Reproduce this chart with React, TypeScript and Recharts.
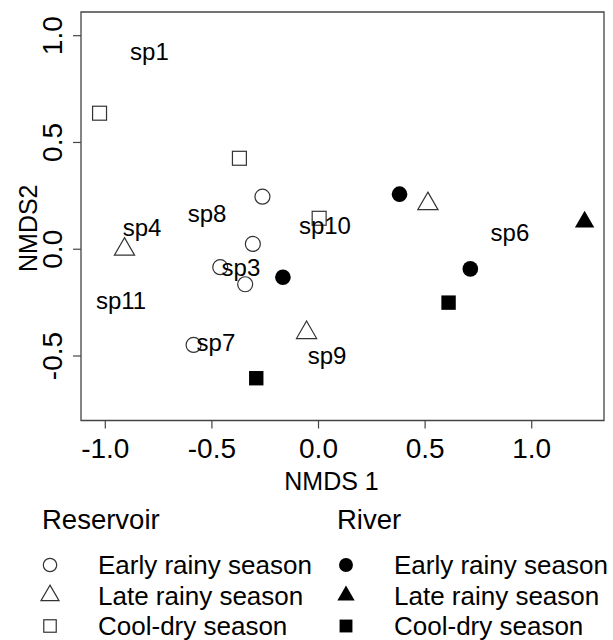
import { ScatterChart, Scatter, XAxis, YAxis, ReferenceArea } from "recharts";

const FONT = "'Liberation Sans', Arial, Helvetica, sans-serif";

// NMDS site scores, one array per habitat x season
const reservoirEarly = [
  { x: -0.263, y: 0.246 },
  { x: -0.308, y: 0.025 },
  { x: -0.461, y: -0.084 },
  { x: -0.344, y: -0.164 },
  { x: -0.586, y: -0.448 },
];
const reservoirLate = [
  { x: -0.91, y: 0.0 },
  { x: 0.513, y: 0.213 },
  { x: -0.056, y: -0.391 },
];
const reservoirCool = [
  { x: -1.027, y: 0.637 },
  { x: -0.371, y: 0.426 },
  { x: 0.003, y: 0.145 },
];
const riverEarly = [
  { x: 0.38, y: 0.258 },
  { x: -0.167, y: -0.131 },
  { x: 0.712, y: -0.092 },
];
const riverLate = [{ x: 1.248, y: 0.128 }];
const riverCool = [
  { x: 0.61, y: -0.25 },
  { x: -0.292, y: -0.604 },
];

// species scores
const species = [
  { name: "sp1", x: -0.793, y: 0.926 },
  { name: "sp8", x: -0.523, y: 0.166 },
  { name: "sp4", x: -0.828, y: 0.104 },
  { name: "sp10", x: 0.03, y: 0.11 },
  { name: "sp6", x: 0.898, y: 0.077 },
  { name: "sp3", x: -0.364, y: -0.084 },
  { name: "sp11", x: -0.926, y: -0.24 },
  { name: "sp7", x: -0.481, y: -0.438 },
  { name: "sp9", x: 0.04, y: -0.497 },
];

const xTicks = [-1, -0.5, 0, 0.5, 1];
const yTicks = [-0.5, 0, 0.5, 1];
const xDomain = [-1.114, 1.339];
const yDomain = [-0.802, 1.111];

const legendGroups = ["Reservoir", "River"];
const seasonNames = ["Early rainy season", "Late rainy season", "Cool-dry season"];

type Kind = "circle" | "triangle" | "square";
const seasonKinds: Kind[] = ["circle", "triangle", "square"];

function Marker({ cx, cy, kind, filled, a = 7.5 }: { cx: number; cy: number; kind: Kind; filled: boolean; a?: number }) {
  const paint = filled
    ? { fill: "#000", stroke: "none" }
    : { fill: "none", stroke: "#333", strokeWidth: 1.2 };
  if (kind === "circle") {
    return <circle cx={cx} cy={cy} r={filled ? a * 1.04 : a} {...paint} />;
  }
  if (kind === "square") {
    const h = filled ? a * 0.96 : a * 0.93;
    return <rect x={cx - h} y={cy - h} width={2 * h} height={2 * h} {...paint} />;
  }
  // point-up triangle, same proportions as R's pch 2 / 17
  const t = filled ? a * 0.96 : a;
  const pts = `${cx},${cy - 1.555 * t} ${cx + 1.347 * t},${cy + 0.778 * t} ${cx - 1.347 * t},${cy + 0.778 * t}`;
  return <polygon points={pts} {...paint} />;
}

const shapeFor = (kind: Kind, filled: boolean) => (p: any) =>
  <Marker cx={p.cx} cy={p.cy} kind={kind} filled={filled} />;

function SpeciesLabel(p: any) {
  return (
    <text x={p.cx} y={p.cy} dy={8.5} textAnchor="middle" fontSize={24} fontFamily={FONT} fill="#000">
      {p.payload.name}
    </text>
  );
}

function XTick({ x, y, payload }: any) {
  return (
    <text x={x} y={y + 27.8} textAnchor="middle" fontSize={28} fontFamily={FONT} fill="#000">
      {Number(payload.value).toFixed(1)}
    </text>
  );
}

function YTick({ x, y, payload }: any) {
  const bx = x - 9;
  return (
    <text x={bx} y={y} transform={`rotate(-90, ${bx}, ${y})`} textAnchor="middle" fontSize={28} fontFamily={FONT} fill="#000">
      {Number(payload.value).toFixed(1)}
    </text>
  );
}

function XTitle(props: any) {
  const vb = props.viewBox ?? { x: 81, y: 420.5, width: 523, height: 219.5 };
  return (
    <text x={vb.x + vb.width / 2 - 11} y={vb.y + 69.5} textAnchor="middle" fontSize={25} fontFamily={FONT} fill="#000">
      NMDS 1
    </text>
  );
}

function YTitle(props: any) {
  const vb = props.viewBox ?? { x: 0, y: 12, width: 81, height: 408.5 };
  const bx = vb.x + 37;
  const cy = vb.y + vb.height / 2 + 12;
  return (
    <text x={bx} y={cy} transform={`rotate(-90, ${bx}, ${cy})`} textAnchor="middle" fontSize={25} fontFamily={FONT} fill="#000">
      NMDS2
    </text>
  );
}

function SeasonLegend() {
  const headerX = [42, 337];
  const symbolX = [50, 346];
  const textX = [98, 394];
  return (
    <svg width={613} height={640} style={{ position: "absolute", left: 0, top: 0, pointerEvents: "none" }}>
      {legendGroups.map((g, gi) => (
        <g key={g}>
          <text x={headerX[gi]} y={529} fontSize={27.5} fontFamily={FONT} fill="#000">
            {g}
          </text>
          {seasonNames.map((s, si) => {
            const base = 574 + si * 30.5;
            return (
              <g key={s}>
                <Marker cx={symbolX[gi]} cy={base - 9} kind={seasonKinds[si]} filled={gi === 1} a={6.7} />
                <text x={textX[gi]} y={base} fontSize={26} fontFamily={FONT} fill="#000">
                  {s}
                </text>
              </g>
            );
          })}
        </g>
      ))}
    </svg>
  );
}

export default function App() {
  return (
    <div style={{ position: "absolute", left: 0, top: 0, width: 613, height: 640, background: "#fff" }}>
      <ScatterChart width={613} height={640} margin={{ top: 12, right: 9, bottom: 0, left: 0 }}>
        <XAxis
          type="number"
          dataKey="x"
          domain={xDomain}
          ticks={xTicks}
          allowDataOverflow
          height={219.5}
          axisLine={false}
          tickSize={8}
          tickLine={{ stroke: "#444", strokeWidth: 1.2 }}
          tick={<XTick />}
          label={XTitle}
        />
        <YAxis
          type="number"
          dataKey="y"
          domain={yDomain}
          ticks={yTicks}
          allowDataOverflow
          width={81}
          axisLine={false}
          tickSize={8}
          tickLine={{ stroke: "#444", strokeWidth: 1.2 }}
          tick={<YTick />}
          label={YTitle}
        />
        <ReferenceArea
          x1={xDomain[0]}
          x2={xDomain[1]}
          y1={yDomain[0]}
          y2={yDomain[1]}
          fill="none"
          stroke="#444"
          strokeWidth={1.3}
          ifOverflow="visible"
        />
        <Scatter data={reservoirEarly} shape={shapeFor("circle", false)} isAnimationActive={false} />
        <Scatter data={reservoirLate} shape={shapeFor("triangle", false)} isAnimationActive={false} />
        <Scatter data={reservoirCool} shape={shapeFor("square", false)} isAnimationActive={false} />
        <Scatter data={riverEarly} shape={shapeFor("circle", true)} isAnimationActive={false} />
        <Scatter data={riverLate} shape={shapeFor("triangle", true)} isAnimationActive={false} />
        <Scatter data={riverCool} shape={shapeFor("square", true)} isAnimationActive={false} />
        <Scatter data={species} shape={SpeciesLabel} isAnimationActive={false} />
      </ScatterChart>
      <SeasonLegend />
    </div>
  );
}
